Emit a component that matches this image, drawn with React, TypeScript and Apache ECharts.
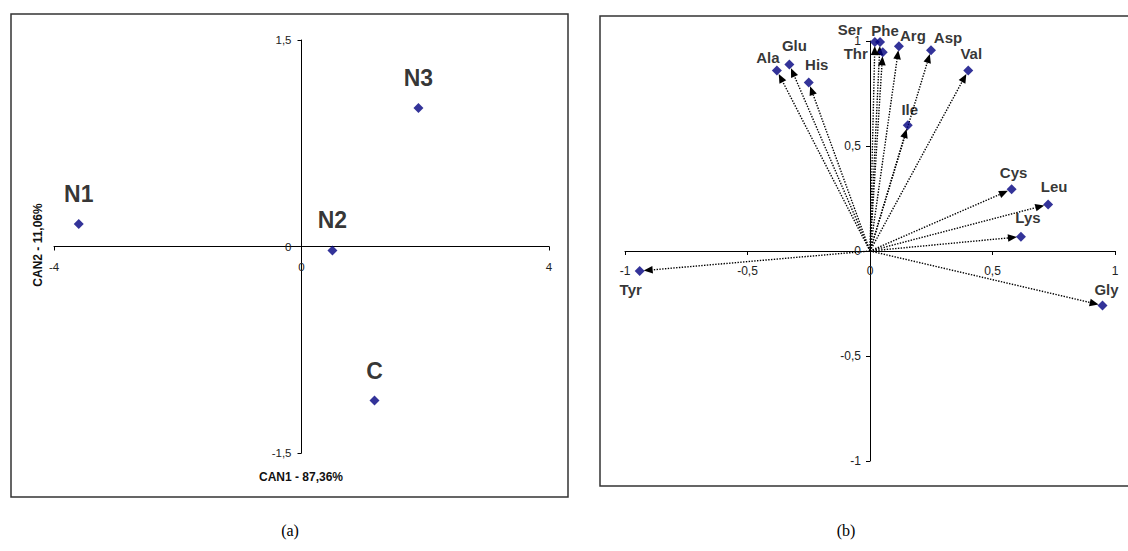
import React, { useEffect, useRef } from "react";
import * as echarts from "echarts";

// ---- Panel (a): canonical scores of groups ----
const groupNames = ["N1", "N2", "N3", "C"];
const can1Scores = [-3.6, 0.5, 1.89, 1.18];
const can2Scores = [0.163, -0.029, 1.006, -1.119];

// ---- Panel (b): amino-acid loadings ----
const aminoNames = ["Ala", "Glu", "His", "Ser", "Phe", "Thr", "Arg", "Asp", "Val", "Ile", "Cys", "Leu", "Lys", "Tyr", "Gly"];
const loadX = [-0.38, -0.329, -0.25, 0.02, 0.041, 0.052, 0.118, 0.249, 0.401, 0.154, 0.578, 0.727, 0.616, -0.94, 0.949];
const loadY = [0.86, 0.888, 0.802, 0.995, 0.995, 0.946, 0.975, 0.956, 0.86, 0.599, 0.294, 0.222, 0.068, -0.095, -0.259];

// axis ranges / tick steps
const leftX = { min: -4, max: 4, interval: 4 };
const leftY = { min: -1.5, max: 1.5, interval: 1.5 };
const rightX = { min: -1, max: 1, interval: 0.5 };
const rightY = { min: -1, max: 1, interval: 0.5 };

// layout
const gridA = { left: 54, top: 40, width: 495, height: 413 };
const gridB = { left: 625, top: 41, width: 490, height: 420 };

// label placement (layout only, in px relative to the point)
const aminoLabelOffset: Record<string, number[]> = {
  Ala: [-9, -13], Glu: [5, -19], His: [8, -18], Ser: [-25, -13], Phe: [5, -12],
  Thr: [-27, 1.5], Arg: [14, -11], Asp: [17, -13], Val: [3, -17], Ile: [2, -16],
  Cys: [2, -17], Leu: [6, -18], Lys: [7, -19], Tyr: [-9, 19], Gly: [4, -16],
};

const FONT = "Liberation Sans";
const fmt = (v: number) => String(v).replace(".", ",");

// Axis placed through the other axis' zero (via offset from the grid edge)
function axisAtZero(range: any, grid: any, dim: "x" | "y", other: any, fontSize: number, margin: number, gridIndex: number) {
  const frac = (0 - other.min) / (other.max - other.min);
  const offset = dim === "x" ? -frac * grid.height : -frac * grid.width;
  return {
    gridIndex,
    type: "value" as const,
    ...range,
    position: dim === "x" ? "bottom" : "left",
    offset,
    axisLine: { show: true, onZero: false, lineStyle: { color: "#000", width: 1 } },
    axisTick: { show: true, length: 4, lineStyle: { color: "#000", width: 1 } },
    splitLine: { show: false },
    axisLabel: {
      show: true,
      margin,
      fontSize,
      color: "#222",
      fontFamily: FONT,
      formatter: fmt,
      showMinLabel: true,
      showMaxLabel: true,
    },
  };
}

export default function App() {
  const ref = useRef<HTMLDivElement>(null);
  useEffect(() => {
    if (!ref.current) return;
    const chart = echarts.init(ref.current, undefined, { renderer: "svg" });
    const option: any = {
      animation: false,
      backgroundColor: "#fff",
      textStyle: { fontFamily: FONT },
      grid: [gridA, gridB],
      xAxis: [
        axisAtZero(leftX, gridA, "x", leftY, 11.5, 14, 0),
        axisAtZero(rightX, gridB, "x", rightY, 12, 14, 1),
      ],
      yAxis: [
        axisAtZero(leftY, gridA, "y", leftX, 11.5, 10, 0),
        axisAtZero(rightY, gridB, "y", rightX, 12, 9, 1),
      ],
      series: [
        {
          type: "scatter",
          xAxisIndex: 0,
          yAxisIndex: 0,
          symbol: "diamond",
          symbolSize: 10,
          itemStyle: { color: "#000080" },
          data: groupNames.map((n, i) => ({ name: n, value: [can1Scores[i], can2Scores[i]] })),
          label: {
            show: true,
            formatter: "{b}",
            position: "inside",
            offset: [0, -30],
            fontSize: 23,
            fontWeight: "bold",
            color: "#000",
            fontFamily: FONT,
          },
          z: 3,
        },
        {
          type: "custom",
          xAxisIndex: 1,
          yAxisIndex: 1,
          clip: false,
          data: loadX.map((x, i) => [x, loadY[i]]),
          encode: { x: 0, y: 1 },
          renderItem: (params: any, api: any) => {
            const p0 = api.coord([0, 0]);
            const p1 = api.coord([api.value(0), api.value(1)]);
            const dx = p1[0] - p0[0];
            const dy = p1[1] - p0[1];
            const len = Math.sqrt(dx * dx + dy * dy) || 1;
            const ux = dx / len;
            const uy = dy / len;
            const tip = [p1[0] - ux * 4, p1[1] - uy * 4];
            const base = [tip[0] - ux * 9, tip[1] - uy * 9];
            const nx = -uy * 3.8;
            const ny = ux * 3.8;
            return {
              type: "group",
              children: [
                {
                  type: "line",
                  shape: { x1: p0[0], y1: p0[1], x2: base[0], y2: base[1] },
                  style: { stroke: "#000", lineWidth: 1.4, lineDash: [1.4, 1.4], fill: null },
                },
                {
                  type: "polygon",
                  shape: { points: [tip, [base[0] + nx, base[1] + ny], [base[0] - nx, base[1] - ny]] },
                  style: { fill: "#000" },
                },
              ],
            };
          },
          z: 2,
        },
        {
          type: "scatter",
          xAxisIndex: 1,
          yAxisIndex: 1,
          symbol: "diamond",
          symbolSize: 10,
          itemStyle: { color: "#000080" },
          data: aminoNames.map((n, i) => ({
            name: n,
            value: [loadX[i], loadY[i]],
            label: { offset: aminoLabelOffset[n] },
          })),
          label: {
            show: true,
            formatter: "{b}",
            position: "inside",
            fontSize: 15,
            fontWeight: "bold",
            color: "#000",
            fontFamily: FONT,
          },
          z: 3,
        },
      ],
      graphic: [
        {
          type: "rect",
          shape: { x: 11, y: 14, width: 557, height: 483 },
          style: { fill: "none", stroke: "#333", lineWidth: 1.5 },
          z: -10,
        },
        {
          type: "rect",
          shape: { x: 600, y: 16, width: 540, height: 470 },
          style: { fill: "none", stroke: "#333", lineWidth: 1.5 },
          z: -10,
        },
        {
          type: "text",
          x: 301,
          y: 477,
          style: {
            text: "CAN1 - 87,36%",
            fontSize: 12,
            fontWeight: "bold",
            fontFamily: FONT,
            fill: "#111",
            align: "center",
            verticalAlign: "middle",
          },
        },
        {
          type: "text",
          x: 38,
          y: 245,
          rotation: Math.PI / 2,
          style: {
            text: "CAN2 - 11,06%",
            fontSize: 12,
            fontWeight: "bold",
            fontFamily: FONT,
            fill: "#111",
            align: "center",
            verticalAlign: "middle",
          },
        },
        {
          type: "text",
          x: 290,
          y: 530,
          style: {
            text: "(a)",
            fontSize: 16,
            fontFamily: "Liberation Serif",
            fill: "#000",
            align: "center",
            verticalAlign: "middle",
          },
        },
        {
          type: "text",
          x: 846,
          y: 530,
          style: {
            text: "(b)",
            fontSize: 16,
            fontFamily: "Liberation Serif",
            fill: "#000",
            align: "center",
            verticalAlign: "middle",
          },
        },
      ],
    };
    chart.setOption(option);
    return () => chart.dispose();
  }, []);
  return (
    <div
      ref={ref}
      style={{ position: "fixed", left: 0, top: 0, width: 1128, height: 551, background: "#fff" }}
    />
  );
}
